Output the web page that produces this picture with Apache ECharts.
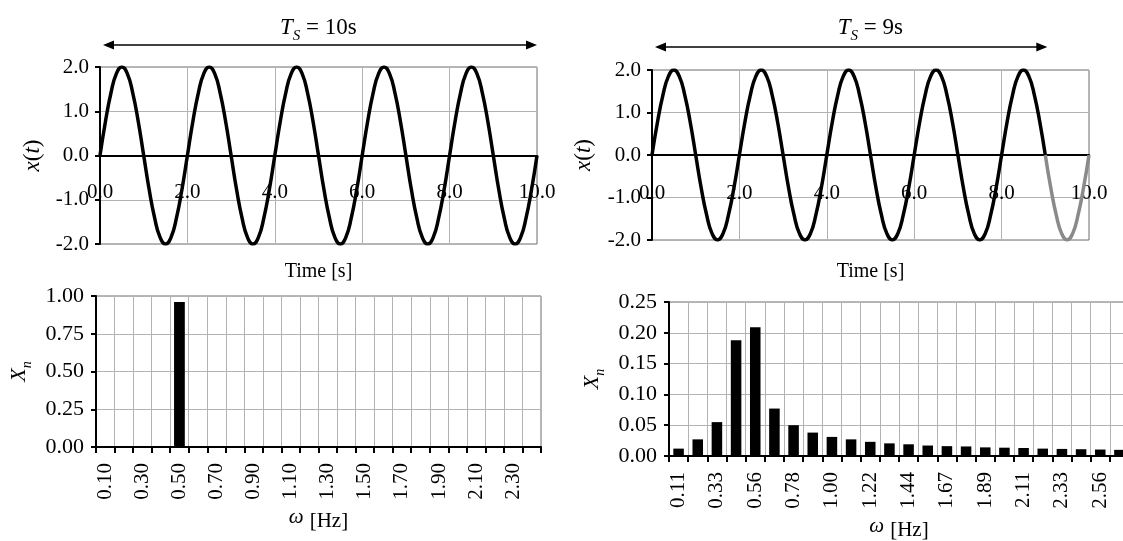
<!DOCTYPE html>
<html><head><meta charset="utf-8">
<script src="https://cdn.jsdelivr.net/npm/echarts@6/dist/echarts.min.js"></script>
<style>html,body{margin:0;padding:0;background:#fff}#c{width:1123px;height:541px}</style>
</head><body><div id="c"></div>
<script>
// ---- data ----
const signalTimes = [
  0,0.125,0.25,0.375,0.5,0.625,0.75,0.875,
  1,1.125,1.25,1.375,1.5,1.625,1.75,1.875,
  2,2.125,2.25,2.375,2.5,2.625,2.75,2.875,
  3,3.125,3.25,3.375,3.5,3.625,3.75,3.875,
  4,4.125,4.25,4.375,4.5,4.625,4.75,4.875,
  5,5.125,5.25,5.375,5.5,5.625,5.75,5.875,
  6,6.125,6.25,6.375,6.5,6.625,6.75,6.875,
  7,7.125,7.25,7.375,7.5,7.625,7.75,7.875,
  8,8.125,8.25,8.375,8.5,8.625,8.75,8.875,
  9,9.125,9.25,9.375,9.5,9.625,9.75,9.875,
  10];
const signalValues = [
  0,0.77,1.41,1.85,2,1.85,1.41,0.77,
  0,-0.77,-1.41,-1.85,-2,-1.85,-1.41,-0.77,
  0,0.77,1.41,1.85,2,1.85,1.41,0.77,
  0,-0.77,-1.41,-1.85,-2,-1.85,-1.41,-0.77,
  0,0.77,1.41,1.85,2,1.85,1.41,0.77,
  0,-0.77,-1.41,-1.85,-2,-1.85,-1.41,-0.77,
  0,0.77,1.41,1.85,2,1.85,1.41,0.77,
  0,-0.77,-1.41,-1.85,-2,-1.85,-1.41,-0.77,
  0,0.77,1.41,1.85,2,1.85,1.41,0.77,
  0,-0.77,-1.41,-1.85,-2,-1.85,-1.41,-0.77,
  0];
const windowLeft = 10;   // T_S = 10 s
const windowRight = 9;   // T_S = 9 s
const titleLeft = 'T_S = 10s';
const titleRight = 'T_S = 9s';

const freqCats10 = ['0.10','0.20','0.30','0.40','0.50','0.60','0.70','0.80','0.90','1.00','1.10','1.20',
                    '1.30','1.40','1.50','1.60','1.70','1.80','1.90','2.00','2.10','2.20','2.30','2.40'];
const spectrum10 = [0,0,0,0,0.96,0,0,0,0,0,0,0,0,0,0,0,0,0,0,0,0,0,0,0];

const freqCats9 = ['0.11','0.22','0.33','0.44','0.56','0.67','0.78','0.89','1.00','1.11','1.22','1.33',
                   '1.44','1.56','1.67','1.78','1.89','2.00','2.11','2.22','2.33','2.44','2.56','2.67'];
const spectrum9 = [0.012,0.027,0.055,0.188,0.209,0.077,0.050,0.038,0.031,0.027,0.023,0.0205,
                   0.019,0.017,0.016,0.0155,0.014,0.0135,0.013,0.012,0.0115,0.011,0.0105,0.010];

// ---- styling ----
const FF = 'Liberation Serif';
const FS = 21;
const GRID_C = '#b3b3b3';
const BORDER_C = '#6e6e6e';

const pairs = (lo, hi) => signalTimes.map((t, i) => [t, signalValues[i]]).filter(p => p[0] >= lo && p[0] <= hi);

function timeX(gi, labelMargin, nameGap) {
  return {
    gridIndex: gi, type: 'value', min: 0, max: 10, interval: 2,
    axisLine: { show: true, onZero: true, lineStyle: { color: '#000', width: 2 } },
    axisTick: { show: false },
    axisLabel: { formatter: v => v.toFixed(1), fontSize: FS, fontFamily: FF, color: '#000', margin: labelMargin },
    splitLine: { show: true, lineStyle: { color: GRID_C, width: 1 } },
    name: 'Time [s]', nameLocation: 'middle', nameGap: nameGap,
    nameTextStyle: { fontSize: 20, fontFamily: FF, color: '#000' }
  };
}
function timeY(gi, gap) {
  return {
    gridIndex: gi, type: 'value', min: -2, max: 2, interval: 1,
    axisLine: { show: true, onZero: false, lineStyle: { color: '#000', width: 2 } },
    axisTick: { show: true, length: 5, lineStyle: { color: '#000', width: 2 } },
    axisLabel: { formatter: v => v.toFixed(1), fontSize: FS, fontFamily: FF, color: '#000', margin: 11 },
    splitLine: { show: true, lineStyle: { color: GRID_C, width: 1 } },
    name: '{i|x}{n|(}{i|t}{n|)}', nameLocation: 'middle', nameGap: gap,
    nameTextStyle: { fontFamily: FF, color: '#000',
      rich: { i: { fontSize: 23, fontStyle: 'italic', fontFamily: FF, color: '#000' },
              n: { fontSize: 23, fontFamily: FF, color: '#000' } } }
  };
}
function freqX(gi, cats) {
  return {
    gridIndex: gi, type: 'category', data: cats, boundaryGap: true,
    axisLine: { show: true, onZero: true, lineStyle: { color: '#000', width: 2 } },
    axisTick: { show: true, interval: 0, length: 6, lineStyle: { color: '#000', width: 2 } },
    axisLabel: { interval: 1, rotate: 90, fontSize: FS, fontFamily: FF, color: '#000', margin: 16 },
    splitLine: { show: true, interval: 0, lineStyle: { color: GRID_C, width: 1 } },
    name: '{w|ω}  {h|[Hz]}', nameLocation: 'middle', nameGap: 60,
    nameTextStyle: { fontFamily: FF, color: '#000',
      rich: { w: { fontSize: 21, fontStyle: 'italic', fontFamily: FF, color: '#000', lineHeight: 25, verticalAlign: 'top' },
              h: { fontSize: 21, fontFamily: FF, color: '#000', lineHeight: 21, verticalAlign: 'bottom' } } }
  };
}
function freqY(gi, max, interval, gap) {
  return {
    gridIndex: gi, type: 'value', min: 0, max: max, interval: interval,
    axisLine: { show: true, onZero: false, lineStyle: { color: '#000', width: 2 } },
    axisTick: { show: true, length: 5, lineStyle: { color: '#000', width: 2 } },
    axisLabel: { formatter: v => v.toFixed(2), fontSize: 22, fontFamily: FF, color: '#000', margin: 12 },
    splitLine: { show: true, lineStyle: { color: GRID_C, width: 1 } },
    name: '{x|X}{n|n}', nameLocation: 'middle', nameGap: gap,
    nameTextStyle: { fontFamily: FF, color: '#000',
      rich: { x: { fontSize: 22, fontStyle: 'italic', fontFamily: FF, color: '#000', lineHeight: 26, verticalAlign: 'top' },
              n: { fontSize: 14, fontStyle: 'italic', fontFamily: FF, color: '#000', lineHeight: 14, verticalAlign: 'bottom' } } }
  };
}
const gridBase = { show: true, borderColor: BORDER_C, borderWidth: 1, backgroundColor: 'transparent', containLabel: false, outerBoundsMode: 'none' };

const chart = echarts.init(document.getElementById('c'), null, { renderer: 'canvas' });
chart.setOption({
  backgroundColor: '#fff',
  animation: false,
  grid: [
    Object.assign({ left: 100, top: 67, width: 437, height: 177 }, gridBase),
    Object.assign({ left: 652, top: 70, width: 437, height: 170 }, gridBase),
    Object.assign({ left: 96, top: 296, width: 445, height: 151 }, gridBase),
    Object.assign({ left: 669, top: 302, width: 460, height: 154 }, gridBase)
  ],
  xAxis: [timeX(0, -62, 18), timeX(1, -57, 22), freqX(2, freqCats10), freqX(3, freqCats9)],
  yAxis: [timeY(0, 56), timeY(1, 57), freqY(2, 1, 0.25, 62), freqY(3, 0.25, 0.05, 62)],
  series: [
    { type: 'line', xAxisIndex: 0, yAxisIndex: 0, data: pairs(0, windowLeft), symbol: 'none', smooth: true,
      lineStyle: { color: '#000', width: 3.5 }, z: 5 },
    { type: 'line', xAxisIndex: 1, yAxisIndex: 1, data: pairs(0, windowRight), symbol: 'none', smooth: true,
      lineStyle: { color: '#000', width: 3.5 }, z: 5 },
    { type: 'line', xAxisIndex: 1, yAxisIndex: 1, data: pairs(windowRight, 10), symbol: 'none', smooth: true,
      lineStyle: { color: '#8a8a8a', width: 3.5 }, z: 5 },
    { type: 'bar', xAxisIndex: 2, yAxisIndex: 2, data: spectrum10, barWidth: '58%',
      itemStyle: { color: '#000' }, z: 5 },
    { type: 'bar', xAxisIndex: 3, yAxisIndex: 3, data: spectrum9, barWidth: '55%',
      itemStyle: { color: '#000' }, z: 5 }
  ]
});

// annotations: arrows spanning the sampling window and T_S titles
function arrow(x0, x1, y) {
  const h = 11, w = 4.5;
  return [
    { type: 'line', shape: { x1: x0 + 4, y1: y, x2: x1 - 4, y2: y }, style: { stroke: '#000', lineWidth: 1.5 } },
    { type: 'polygon', shape: { points: [[x0, y], [x0 + h, y - w], [x0 + h, y + w]] }, style: { fill: '#000' } },
    { type: 'polygon', shape: { points: [[x1, y], [x1 - h, y - w], [x1 - h, y + w]] }, style: { fill: '#000' } }
  ];
}
function titleText(cx, y, str) {
  const parts = str.split(' = ');
  return {
    type: 'text', x: cx, y: y,
    style: {
      text: '{t|T}{s|S}{r| = ' + parts[1] + '}{z|\u200a}',
      align: 'center', verticalAlign: 'middle',
      rich: {
        t: { fontSize: 23, fontStyle: 'italic', fontFamily: FF, fill: '#000', lineHeight: 22, verticalAlign: 'top' },
        s: { fontSize: 15, fontStyle: 'italic', fontFamily: FF, fill: '#000', lineHeight: 15, verticalAlign: 'bottom' },
        r: { fontSize: 23, fontFamily: FF, fill: '#000', lineHeight: 22, verticalAlign: 'top' },
        z: { fontSize: 2, fontFamily: FF, fill: '#000', lineHeight: 27, verticalAlign: 'top' }
      }
    }
  };
}
const L0 = chart.convertToPixel({ xAxisIndex: 0 }, 0);
const L1 = chart.convertToPixel({ xAxisIndex: 0 }, windowLeft);
const R0 = chart.convertToPixel({ xAxisIndex: 1 }, 0);
const R1 = chart.convertToPixel({ xAxisIndex: 1 }, windowRight);
const RE = chart.convertToPixel({ xAxisIndex: 1 }, 10);
chart.setOption({
  graphic: [].concat(
    arrow(L0 + 3, L1, 45),
    arrow(R0 + 3, R1 + 2, 47),
    [titleText((L0 + L1) / 2, 30, titleLeft), titleText((R0 + RE) / 2, 30, titleRight)]
  )
});
</script>
</body></html>
